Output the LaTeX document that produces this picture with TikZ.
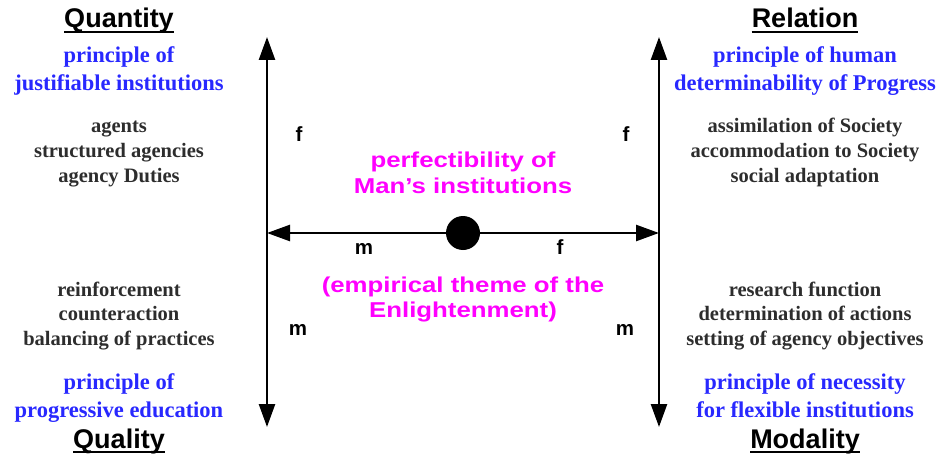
\documentclass[tikz,border=0pt]{standalone}
\usepackage{fontspec}
\setmainfont{Liberation Serif}
\newfontfamily\hdfont{Liberation Sans}
\newfontfamily\stfont[FakeStretch=1.2]{Liberation Sans}
\usetikzlibrary{arrows.meta}
\definecolor{pblue}{RGB}{40,40,255}
\definecolor{tgray}{RGB}{45,45,45}
\definecolor{pmag}{RGB}{255,0,255}
\begin{document}
\begin{tikzpicture}[x=1pt,y=-1pt,
  hd/.style={inner sep=0, anchor=base, font=\hdfont\bfseries\fontsize{27}{30}\selectfont, text=black},
  bl/.style={inner sep=0, anchor=base, font=\bfseries\fontsize{22.5}{27}\selectfont, text=pblue},
  gr/.style={inner sep=0, anchor=base, font=\bfseries\fontsize{20.5}{25}\selectfont, text=tgray},
  mg/.style={inner sep=0, anchor=base, font=\stfont\bfseries\fontsize{21.5}{26}\selectfont, text=pmag},
  lb/.style={inner sep=0, anchor=base, font=\hdfont\bfseries\fontsize{20.5}{24}\selectfont, text=black},
  ul/.style={line width=1.6pt},
  ax/.style={line width=2.5pt, {Triangle[width=16pt,length=23pt]}-{Triangle[width=16pt,length=23pt]}}]
\useasboundingbox (0,0) rectangle (940,460);
% axes
\coordinate (LT) at (267,37);
\coordinate (LB) at (267,427);
\coordinate (RT) at (659,37);
\coordinate (RB) at (659,427);
\coordinate (LM) at (267,233);
\coordinate (RM) at (659,233);
\draw[ax] (LB) -- (LT);
\draw[ax] (RB) -- (RT);
\draw[ax] (LM) -- (RM);
\node[circle, fill=black, minimum size=34pt, inner sep=0] (dot) at (463,233) {};
% axis labels
\node[lb] (f1) at (299,141) {f};
\node[lb] (f2) at (626,141) {f};
\node[lb] (m1) at (298,335) {m};
\node[lb] (m2) at (625,335) {m};
\node[lb] (m3) at (364,254) {m};
\node[lb] (f3) at (560,254) {f};
% centre texts
\node[mg] (c1) at (463,167) {perfectibility of};
\node[mg] (c2) at (463,193) {Man’s institutions};
\node[mg] (c3) at (463,292) {(empirical theme of the};
\node[mg] (c4) at (463,317) {Enlightenment)};
% left column
\node[hd] (qn) at (119,28) {Quantity};
\draw[ul] ([yshift=-4pt]qn.base west) -- ([yshift=-4pt]qn.base east);
\node[bl] (l1) at (119,63) {principle of};
\node[bl] (l2) at (119,91) {justifiable institutions};
\node[gr] (l3) at (119,132) {agents};
\node[gr] (l4) at (119,157) {structured agencies};
\node[gr] (l5) at (119,182) {agency Duties};
\node[gr] (l6) at (119,296) {reinforcement};
\node[gr] (l7) at (119,320) {counteraction};
\node[gr] (l8) at (119,345) {balancing of practices};
\node[bl] (l9) at (119,389) {principle of};
\node[bl] (l10) at (119,417) {progressive education};
\node[hd] (ql) at (119,448) {Quality};
\draw[ul] ([yshift=-4pt]ql.base west) -- ([yshift=-4pt]ql.base east);
% right column
\node[hd] (rl) at (805,28) {Relation};
\draw[ul] ([yshift=-4pt]rl.base west) -- ([yshift=-4pt]rl.base east);
\node[bl] (r1) at (805,63) {principle of human};
\node[bl] (r2) at (805,91) {determinability of Progress};
\node[gr] (r3) at (805,132) {assimilation of Society};
\node[gr] (r4) at (805,157) {accommodation to Society};
\node[gr] (r5) at (805,182) {social adaptation};
\node[gr] (r6) at (805,296) {research function};
\node[gr] (r7) at (805,320) {determination of actions};
\node[gr] (r8) at (805,345) {setting of agency objectives};
\node[bl] (r9) at (805,389) {principle of necessity};
\node[bl] (r10) at (805,417) {for flexible institutions};
\node[hd] (md) at (805,448) {Modality};
\draw[ul] ([yshift=-4pt]md.base west) -- ([yshift=-4pt]md.base east);
\end{tikzpicture}
\end{document}
